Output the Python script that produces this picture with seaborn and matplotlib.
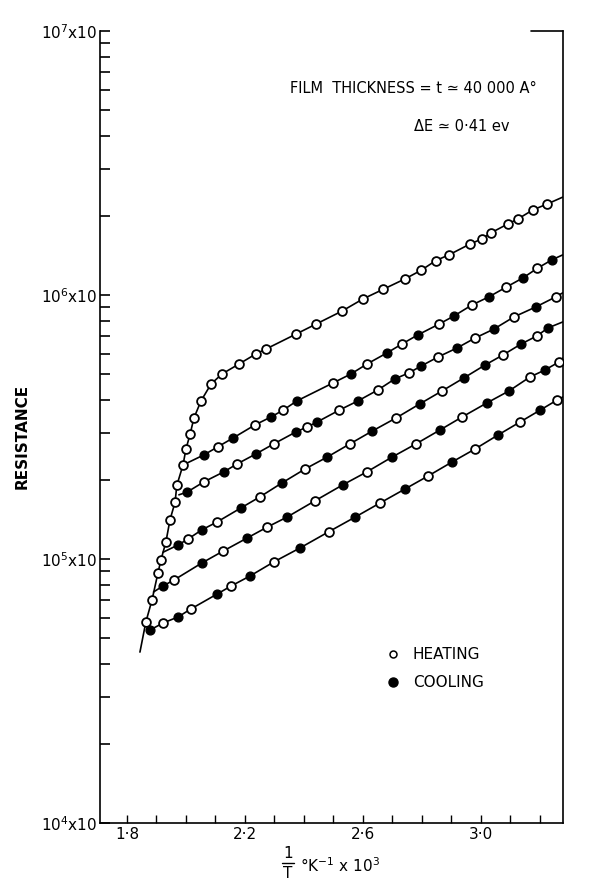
import numpy as np
import pandas as pd
import matplotlib
matplotlib.use("Agg")
import matplotlib.pyplot as plt
import seaborn as sns
from matplotlib.ticker import LogLocator, NullFormatter

# kind: 'o' = heating (open), 'f' = cooling (filled), '-' = line node only
c1_x = [1.844, 1.864, 1.885, 1.905, 1.915, 1.932, 1.946, 1.963, 1.969, 1.990, 2.000, 2.014,
        2.027, 2.051, 2.085, 2.122, 2.180, 2.237, 2.271, 2.373, 2.441, 2.529, 2.600, 2.668,
        2.742, 2.797, 2.847, 2.892, 2.963, 3.003, 3.034, 3.092, 3.125, 3.176, 3.224, 3.278]
c1_r = [4.44e4, 5.77e4, 7.0e4, 8.85e4, 9.9e4, 1.16e5, 1.41e5, 1.64e5, 1.90e5, 2.27e5, 2.61e5, 2.97e5,
        3.42e5, 3.97e5, 4.60e5, 5.02e5, 5.48e5, 5.98e5, 6.24e5, 7.11e5, 7.76e5, 8.69e5, 9.66e5, 1.05e6,
        1.15e6, 1.24e6, 1.35e6, 1.42e6, 1.56e6, 1.63e6, 1.72e6, 1.86e6, 1.94e6, 2.10e6, 2.21e6, 2.35e6]
c1_k = ['-'] + ['o'] * 34 + ['-']

c2_x = [1.990, 2.061, 2.108, 2.159, 2.234, 2.288, 2.329, 2.376, 2.498, 2.559, 2.614, 2.681,
        2.732, 2.786, 2.858, 2.908, 2.969, 3.027, 3.085, 3.142, 3.190, 3.241, 3.278]
c2_r = [2.27e5, 2.48e5, 2.66e5, 2.87e5, 3.22e5, 3.45e5, 3.66e5, 3.97e5, 4.64e5, 5.02e5, 5.48e5, 6.03e5,
        6.52e5, 7.06e5, 7.76e5, 8.32e5, 9.16e5, 9.84e5, 1.07e6, 1.16e6, 1.26e6, 1.36e6, 1.42e6]
c2_k = ['-', 'f', 'o', 'f', 'o', 'f', 'o', 'f', 'o', 'f', 'o', 'f',
        'o', 'f', 'o', 'f', 'o', 'f', 'o', 'f', 'o', 'f', '-']

c3_x = [1.976, 2.003, 2.061, 2.129, 2.173, 2.237, 2.298, 2.373, 2.410, 2.444, 2.519, 2.583,
        2.651, 2.708, 2.756, 2.797, 2.854, 2.919, 2.980, 3.044, 3.112, 3.186, 3.254, 3.278]
c3_r = [1.75e5, 1.79e5, 1.96e5, 2.14e5, 2.29e5, 2.50e5, 2.73e5, 3.03e5, 3.16e5, 3.30e5, 3.66e5, 3.97e5,
        4.37e5, 4.81e5, 5.07e5, 5.38e5, 5.82e5, 6.30e5, 6.87e5, 7.43e5, 8.26e5, 9.01e5, 9.84e5, 1.02e6]
c3_k = ['-', 'f', 'o', 'f', 'o', 'f', 'o', 'f', 'o', 'f', 'o', 'f',
        'o', 'f', 'o', 'f', 'o', 'f', 'o', 'f', 'o', 'f', 'o', '-']

c4_x = [1.922, 1.973, 2.007, 2.054, 2.105, 2.186, 2.251, 2.325, 2.403, 2.478, 2.556, 2.631,
        2.712, 2.793, 2.868, 2.942, 3.014, 3.075, 3.136, 3.190, 3.227, 3.278]
c4_r = [1.06e5, 1.13e5, 1.19e5, 1.29e5, 1.38e5, 1.56e5, 1.72e5, 1.94e5, 2.19e5, 2.43e5, 2.73e5, 3.05e5,
        3.42e5, 3.87e5, 4.33e5, 4.85e5, 5.43e5, 5.93e5, 6.52e5, 7.00e5, 7.50e5, 7.91e5]
c4_k = ['-', 'f', 'o', 'f', 'o', 'f', 'o', 'f', 'o', 'f', 'o', 'f',
        'o', 'f', 'o', 'f', 'f', 'o', 'f', 'o', 'f', '-']

c5_x = [1.890, 1.922, 1.959, 2.054, 2.125, 2.207, 2.275, 2.342, 2.437, 2.532, 2.614, 2.698,
        2.780, 2.861, 2.936, 3.020, 3.095, 3.166, 3.217, 3.264, 3.278]
c5_r = [7.5e4, 7.90e4, 8.32e4, 9.66e4, 1.07e5, 1.20e5, 1.32e5, 1.44e5, 1.66e5, 1.91e5, 2.14e5, 2.43e5,
        2.73e5, 3.08e5, 3.45e5, 3.90e5, 4.33e5, 4.89e5, 5.20e5, 5.57e5, 5.77e5]
c5_k = ['-', 'f', 'o', 'f', 'o', 'f', 'o', 'f', 'o', 'f', 'o', 'f',
        'o', 'f', 'o', 'f', 'f', 'o', 'f', 'o', '-']

c6_x = [1.878, 1.922, 1.973, 2.017, 2.105, 2.153, 2.217, 2.298, 2.386, 2.485, 2.573, 2.658,
        2.742, 2.820, 2.902, 2.980, 3.058, 3.132, 3.200, 3.258, 3.278]
c6_r = [5.38e4, 5.72e4, 6.03e4, 6.47e4, 7.36e4, 7.90e4, 8.62e4, 9.75e4, 1.10e5, 1.27e5, 1.44e5, 1.63e5,
        1.84e5, 2.06e5, 2.33e5, 2.61e5, 2.95e5, 3.30e5, 3.66e5, 4.00e5, 4.11e5]
c6_k = ['f', 'o', 'f', 'o', 'f', 'o', 'f', 'o', 'f', 'o', 'f', 'o',
        'f', 'o', 'f', 'o', 'f', 'o', 'f', 'o', '-']

x_major = [1.8, 2.2, 2.6, 3.0]
x_major_labels = ["1·8", "2·2", "2·6", "3·0"]
x_minor = [1.9, 2.0, 2.1, 2.3, 2.4, 2.5, 2.7, 2.8, 2.9, 3.1, 3.2]
y_major = [1e4, 1e5, 1e6, 1e7]
y_major_labels = [r"$10^{4}$x10", r"$10^{5}$x10", r"$10^{6}$x10", r"$10^{7}$x10"]

curves = [(c1_x, c1_r, c1_k), (c2_x, c2_r, c2_k), (c3_x, c3_r, c3_k),
          (c4_x, c4_r, c4_k), (c5_x, c5_r, c5_k), (c6_x, c6_r, c6_k)]
frames = []
for i, (cx, cr, ck) in enumerate(curves):
    frames.append(pd.DataFrame({"x": cx, "R": cr, "kind": ck, "curve": i}))
df = pd.concat(frames, ignore_index=True)

sns.set_style("ticks")
plt.rcParams['font.family'] = ['DejaVu Sans']
plt.rcParams['mathtext.fontset'] = 'dejavusans'
plt.rcParams['text.color'] = 'black'
plt.rcParams['xtick.color'] = 'black'
plt.rcParams['ytick.color'] = 'black'
plt.rcParams['axes.edgecolor'] = 'black'

fig = plt.figure(figsize=(6.03, 8.93), dpi=100)
ax = fig.add_axes([0.1658, 0.0784, 0.7678, 0.8869])

sns.lineplot(data=df, x="x", y="R", units="curve", estimator=None, sort=False,
             color="black", lw=1.2, ax=ax, legend=False)
sns.scatterplot(data=df[df["kind"] == "o"], x="x", y="R", marker="o", s=40,
                facecolor="white", edgecolor="black", linewidth=1.3, zorder=3, ax=ax)
sns.scatterplot(data=df[df["kind"] == "f"], x="x", y="R", marker="o", s=40,
                color="black", edgecolor="black", linewidth=1.0, zorder=3, ax=ax)

ax.set_yscale("log")
ax.set_xlim(1.7085, 3.278)
ax.set_ylim(1e4, 1e7)

ax.set_xticks(x_major)
ax.set_xticklabels(x_major_labels, fontsize=11)
ax.set_xticks(x_minor, minor=True)
ax.set_yticks(y_major)
ax.set_yticklabels(y_major_labels, fontsize=11)
ax.yaxis.set_minor_locator(LogLocator(base=10, subs=np.arange(2, 10)))
ax.yaxis.set_minor_formatter(NullFormatter())

ax.tick_params(axis="y", which="both", direction="in", length=7, width=1.2, pad=2, colors="black")
ax.tick_params(axis="x", which="both", direction="in", length=6, width=1.0, pad=3, colors="black")
ax.set_xlabel("")
ax.set_ylabel("")

for side in ["left", "bottom", "right"]:
    ax.spines[side].set_linewidth(1.2)
    ax.spines[side].set_color("black")
ax.spines["top"].set_visible(False)
ax.plot([0.931, 1.0], [1.0, 1.0], transform=ax.transAxes, color="black", lw=1.2, clip_on=False)

ax.text(0.411, 0.928, "FILM  THICKNESS = t ≃ 40 000 A°", transform=ax.transAxes,
        fontsize=10.5, va="center", ha="left", color="black")
ax.text(0.678, 0.879, "ΔE ≃ 0·41 ev", transform=ax.transAxes,
        fontsize=10.5, va="center", ha="left", color="black")

# legend
ax.plot([0.633], [0.213], "o", transform=ax.transAxes, ms=5, mfc="white", mec="black", mew=1.1)
ax.plot([0.633], [0.178], "o", transform=ax.transAxes, ms=6.5, color="black")
ax.text(0.676, 0.213, "HEATING", transform=ax.transAxes, fontsize=11, va="center", ha="left")
ax.text(0.676, 0.178, "COOLING", transform=ax.transAxes, fontsize=11, va="center", ha="left")

fig.text(22 / 603, 1 - 436 / 893, "RESISTANCE", rotation=90, fontsize=11,
         fontweight="bold", ha="center", va="center")

# x axis label: 1/T as a stacked fraction
fig.text(288 / 603, 1 - 853 / 893, "1", fontsize=11, ha="center", va="center")
fig.add_artist(plt.Line2D([282 / 603, 294 / 603], [1 - 863 / 893, 1 - 863 / 893],
                          color="black", lw=1.0))
fig.text(288 / 603, 1 - 874 / 893, "T", fontsize=11, ha="center", va="center")
fig.text(300 / 603, 1 - 866 / 893, r"°K$^{-1}$ x 10$^{3}$", fontsize=11,
         ha="left", va="center")

fig.savefig("out.png", dpi=100)
